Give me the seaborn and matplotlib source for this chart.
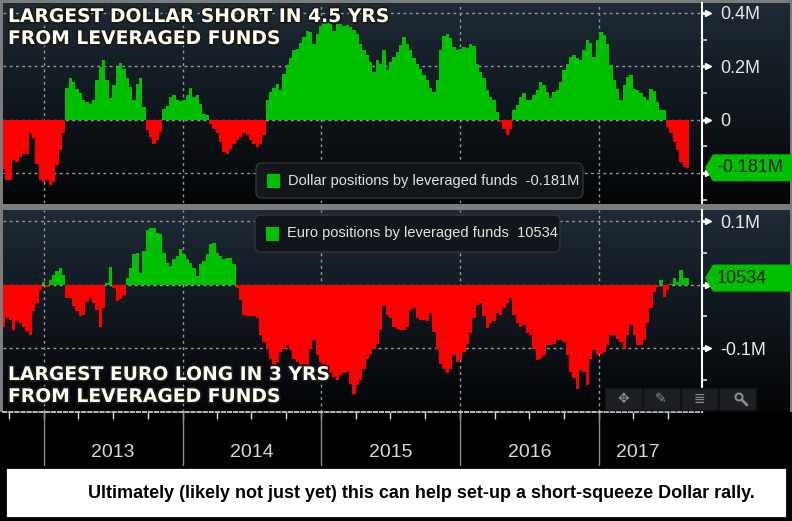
import numpy as np
import pandas as pd
import seaborn as sns
import matplotlib
matplotlib.use('Agg')
import matplotlib.pyplot as plt
import matplotlib.dates as mdates
import matplotlib.patches as mpatches
import matplotlib.transforms as mtransforms
import matplotlib.patheffects as pe
from matplotlib.colors import LinearSegmentedColormap

# net positions of leveraged funds, thousands of contracts (~9 day steps)
usd_net = [
    -184, -228, -228, -152, -159, -140, -128, -128, -50, -70,
    -165, -228, -234, -228, -246, -234, -171, -115, -52, 120,
    154, 141, 116, 98, 75, 66, 58, 72, 148, 198,
    222, 148, 82, 129, 198, 212, 191, 154, 122, 72,
    135, 154, 48, -40, -65, -92, -75, -46, 40, 50,
    85, 91, 72, 70, 72, 91, 120, 85, 91, 60,
    22, 16, -18, -34, -52, -84, -121, -128,
    -109, -92, -78, -65, -50, -59, -78, -90, -102, -90,
    -59, 72, 104, 120, 132, 112, 170, 204, 229, 262,
    266, 288, 310, 332, 329, 285, 322, 350, 362, 370,
    358, 332, 358, 360, 350, 354, 348, 335, 322, 285,
    260, 241, 216, 179, 225, 210, 260, 185, 216, 235,
    254, 279, 308, 285, 260, 229, 208, 191, 166, 148,
    120, 104, 148, 260, 312, 322, 304, 272, 262,
    266, 272, 270, 285, 275, 210, 179, 154, 110, 85,
    72, 29, -9, -34, -59, -34, 35, 54, 85, 98,
    72, 72, 91, 110, 141, 129, 104, 79, 104, 110,
    141, 185, 210, 235, 241, 229, 222, 260, 300, 288,
    235, 300, 329, 316, 285, 204, 148, 116, 72, 129,
    160, 166, 116, 112, 98, 85, 72, 116, 107, 66,
    35, 35, -28, -52, -84, -115, -159, -178, -181,
]
eur_net = [
    -66, -53, -56, -72, -58, -61, -66, -73, -80, -42,
    -29, -8, 5, -4, 8, 16, 21, 27, 16, -21,
    -21, -34, -42, -50, -48, -27, -21, -29, -40, -66,
    -37, 3, 28, -5, -25, -22, -16, 11, 27, 48,
    50, 19, 53, 87, 89, 90, 81, 80, 50, 34,
    29, 40, 45, 56, 48, 40, 34, 27, 13, 32,
    37, 48, 64, 66, 50, 45, 40, 42,
    42, 32, -5, -24, -48, -49, -49, -50, -53, -80,
    -90, -101, -117, -133, -122, -106, -101, -95, -103, -117,
    -122, -127, -125, -127, -101, -87, -111, -122, -127, -133,
    -140, -146, -151, -143, -140, -138, -156, -172, -159, -151,
    -133, -117, -109, -101, -93, -72, -34, -48, -53, -66,
    -70, -72, -72, -66, -40, -37, -53, -56, -56, -58,
    -45, -74, -101, -125, -133, -140, -133, -111, -122,
    -119, -106, -93, -77, -53, -32, -29, -50, -69, -61,
    -58, -45, -48, -37, -29, -21, -48, -61, -66, -64,
    -77, -80, -101, -119, -117, -111, -95, -95, -93, -87,
    -87, -90, -111, -138, -148, -164, -135, -138, -159, -117,
    -103, -111, -109, -106, -95, -80, -80, -85, -90, -101,
    -80, -64, -80, -95, -95, -87, -61, -37, -11, -3,
    8, -19, -8, 1, 10, 5, 24, 10, 10.534,
]
first_date = '2012-09-17'
last_date = '2017-08-22'
x_start, x_end = '2012-09-15', '2017-09-29'

usd_ticks = [400, 200, 0, -200]
usd_tick_labels = ['0.4M', '0.2M', '0', '']
usd_minor = [300, 100, -100, -300]
eur_ticks = [100, 0, -100]
eur_tick_labels = ['0.1M', '', '-0.1M']
eur_minor = [50, -50, -150]

usd_last_label = '-0.181M'
eur_last_label = '10534'
usd_legend = 'Dollar positions by leveraged funds  -0.181M'
eur_legend = 'Euro positions by leveraged funds  10534'
usd_title = 'LARGEST DOLLAR SHORT IN 4.5 YRS\nFROM LEVERAGED FUNDS'
eur_title = 'LARGEST EURO LONG IN 3 YRS\nFROM LEVERAGED FUNDS'
years = ['2013', '2014', '2015', '2016', '2017']
year_label_dates = ['2013-07-02', '2014-07-02', '2015-07-02', '2016-07-02', '2017-04-12']
caption = 'Ultimately (likely not just yet) this can help set-up a short-squeeze Dollar rally.'

GREEN = '#00c000'
RED = '#ff0000'
ARIAL = ['Liberation Sans', 'DejaVu Sans']

sns.set_theme(style='dark')
plt.rcParams['font.family'] = ['DejaVu Sans']

W, H = 792, 521
fig = plt.figure(figsize=(W / 100, H / 100), dpi=100, facecolor='#7c7c7c')


def box(x0, y0, x1, y1):
    return [x0 / W, 1 - y1 / H, (x1 - x0) / W, (y1 - y0) / H]


def inch(x, y):
    return (x / 100, (H - y) / 100)


dates = pd.date_range(first_date, last_date, periods=len(usd_net))
xnum = mdates.date2num(dates)
xlim = mdates.date2num(pd.to_datetime([x_start, x_end]))
year_starts = mdates.date2num(pd.to_datetime([y + '-01-01' for y in years]))

grad = np.linspace(0, 1, 256).reshape(-1, 1)
bb_cmap = LinearSegmentedColormap.from_list('bb', ['#030506', '#1e2a36'])
outline = [pe.withStroke(linewidth=2.5, foreground='#1a1a1a')]


def panel(rect, bg_rect, values, ylim, ticks, tick_labels, minor):
    bg = fig.add_axes(box(*bg_rect), zorder=0)
    bg.imshow(grad, aspect='auto', cmap=bb_cmap, origin='lower', extent=[0, 1, 0, 1])
    bg.set_axis_off()

    ax = fig.add_axes(box(*rect), zorder=1)
    ax.set_facecolor('none')
    df = pd.DataFrame({'date': xnum, 'net': values,
                       'side': np.where(np.array(values) >= 0, 'long', 'short')})
    sns.barplot(data=df, x='date', y='net', hue='side', hue_order=['long', 'short'],
                palette={'long': GREEN, 'short': RED}, saturation=1, native_scale=True,
                dodge=False, width=1.0, errorbar=None, linewidth=0, legend=False, ax=ax)
    for p in ax.patches:
        p.set_antialiased(False)
    ax.set_xlim(*xlim)
    ax.set_ylim(*ylim)
    ax.set_xlabel('')
    ax.set_ylabel('')
    ax.set_axisbelow(True)
    ax.set_xticks(year_starts)
    ax.set_xticklabels([])
    ax.tick_params(axis='x', length=0)
    ax.yaxis.tick_right()
    ax.set_yticks(ticks)
    ax.set_yticklabels(tick_labels)
    ax.set_yticks(minor, minor=True)
    ax.tick_params(axis='y', which='major', length=5, width=2, color='white', pad=8,
                   labelsize=13, labelcolor='#e8e8e8')
    ax.tick_params(axis='y', which='minor', length=3.5, width=1.2, color='#dddddd')
    for lab in ax.get_yticklabels():
        lab.set_family(ARIAL)
    # Bloomberg style arrow heads on the major ticks
    blend = mtransforms.blended_transform_factory(ax.transAxes, ax.transData)
    ax.plot([1.009] * len(ticks), ticks, linestyle='none', marker='>', markersize=5,
            color='white', transform=blend, clip_on=False, zorder=5)
    ax.grid(True, which='major', color='#9a9a9a', linestyle=(0, (2, 2.5)), linewidth=1)
    for side in ['top', 'left', 'bottom']:
        ax.spines[side].set_visible(False)
    ax.spines['right'].set_color('white')
    ax.spines['right'].set_linewidth(1.5)
    return ax


def value_tag(ax, value, label):
    blend = mtransforms.blended_transform_factory(ax.transAxes, ax.transData)
    trans = fig.dpi_scale_trans + mtransforms.ScaledTranslation(1.0, value, blend)
    verts = [(0.03, 0), (0.11, 0.135), (0.92, 0.135), (0.92, -0.135), (0.11, -0.135)]
    ax.add_patch(mpatches.Polygon(verts, closed=True, transform=trans, fc=GREEN,
                                  ec='none', clip_on=False, zorder=6))
    ax.text(0.15, 0, label, transform=trans, ha='left', va='center', fontsize=13,
            color='#0a1a0a', family=ARIAL, zorder=7, clip_on=False)


def legend_box(x0, y0, x1, y1, label):
    fig.patches.append(mpatches.FancyBboxPatch(
        inch(x0, y1), (x1 - x0) / 100, (y1 - y0) / 100,
        boxstyle='round,pad=0,rounding_size=0.06', transform=fig.dpi_scale_trans,
        fc='#121519', ec='#30353a', lw=1, zorder=5))
    cy = (y0 + y1) / 2
    fig.patches.append(mpatches.Rectangle(inch(x0 + 11, cy + 7), 0.13, 0.14,
                                          transform=fig.dpi_scale_trans, fc=GREEN,
                                          ec='none', zorder=6))
    fig.text((x0 + 32) / W, 1 - cy / H, label, ha='left', va='center', fontsize=10.5,
             color='#e2e2e2', family=ARIAL, zorder=7)


ax1 = panel((3, 3, 702, 203), (3, 3, 790, 204), usd_net, (-313, 437),
            usd_ticks, usd_tick_labels, usd_minor)
ax2 = panel((3, 210, 702, 412), (3, 210, 790, 412), eur_net, (-201, 118),
            eur_ticks, eur_tick_labels, eur_minor)
value_tag(ax1, usd_net[-1], usd_last_label)
value_tag(ax2, eur_net[-1], eur_last_label)

fig.text(8 / W, 1 - 7 / H, usd_title, ha='left', va='top', fontsize=13.5, weight='bold',
         color='#fffdf0', path_effects=outline, zorder=8)
fig.text(8 / W, 1 - 365 / H, eur_title, ha='left', va='top', fontsize=13.5, weight='bold',
         color='#fffdf0', path_effects=outline, zorder=8)

legend_box(256, 163, 583, 198, usd_legend)
legend_box(255, 215, 560, 252, eur_legend)

# toolbar in the corner of the lower panel
icons = ['\u2725', '\u270e', '\u2263', '']
for i, icon in enumerate(icons):
    x0 = 605 + 38 * i
    fig.patches.append(mpatches.Rectangle(inch(x0, 410), 0.37, 0.22, transform=fig.dpi_scale_trans,
                                          fc='#1c1f23', ec='#111316', lw=1, zorder=5))
    if icon:
        fig.text((x0 + 18) / W, 1 - 399 / H, icon, ha='center', va='center', fontsize=10,
                 color='#8c8c8c', zorder=6)
fig.patches.append(mpatches.Circle(inch(739, 397), 0.035, transform=fig.dpi_scale_trans,
                                   fc='none', ec='#8c8c8c', lw=1.5, zorder=6))
fig.lines.append(plt.Line2D([7.42, 7.47], [(H - 400) / 100, (H - 405) / 100],
                            transform=fig.dpi_scale_trans, color='#8c8c8c', lw=2, zorder=6))

# date strip
fig.patches.append(mpatches.Rectangle((0, 0), 1, 1 - 412 / H, transform=fig.transFigure,
                                      fc='black', ec='none', zorder=0))
strip = fig.add_axes(box(3, 412, 702, 466), zorder=1)
strip.set_facecolor('black')
strip.set_xlim(*xlim)
strip.set_ylim(0, 1)
strip.xaxis.tick_top()
strip.set_xticks(mdates.date2num(pd.date_range('2012-10-01', '2017-09-01', freq='QS')))
strip.set_xticklabels([])
strip.tick_params(axis='x', length=5, width=1, color='#dddddd', direction='in')
strip.set_yticks([])
for side in ['left', 'right', 'bottom']:
    strip.spines[side].set_visible(False)
strip.spines['top'].set_color('#d0d0d0')
strip.spines['top'].set_linestyle((0, (2, 1.5)))
for xs in year_starts:
    strip.axvline(xs, color='#8a8a8a', lw=1)
for lab, d in zip(years, year_label_dates):
    strip.text(mdates.date2num(pd.Timestamp(d)), 0.25, lab, ha='center', va='center',
               fontsize=14, color='#d8d8d8', family=ARIAL)

# caption
fig.patches.append(mpatches.Rectangle(inch(5, 518), 7.82, 0.51, transform=fig.dpi_scale_trans,
                                      fc='white', ec='black', lw=2, zorder=2))
fig.text(421 / W, 1 - 493 / H, caption, ha='center', va='center', fontsize=13, weight='bold',
         color='black', family=ARIAL, zorder=3)

fig.savefig('out.png', dpi=100, facecolor=fig.get_facecolor())
